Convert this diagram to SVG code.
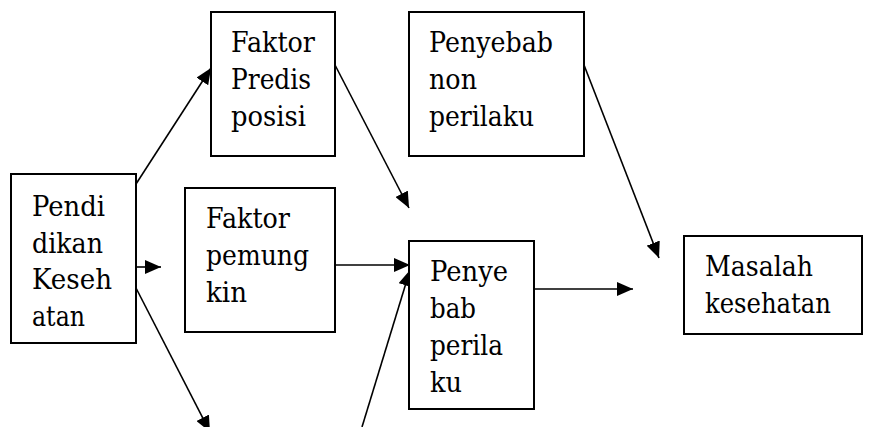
<svg xmlns="http://www.w3.org/2000/svg" width="873" height="427" viewBox="0 0 873 427">
<style>
  .box { fill: #ffffff; stroke: #000000; stroke-width: 2; }
  .lbl { font-family: 'DejaVu Serif', 'Liberation Serif', serif; font-size: 28px; fill: #000000; }
  .conn { stroke: #000000; stroke-width: 1.6; fill: none; marker-end: url(#arrow); }
</style>
<defs>
  <marker id="arrow" markerUnits="userSpaceOnUse" markerWidth="16" markerHeight="14" refX="16" refY="7" orient="auto">
    <path d="M0,0 L16,7 L0,14 Z" fill="#000000"/>
  </marker>
</defs>
<rect width="873" height="427" fill="#ffffff"/>
<g id="connectors">
  <line class="conn" x1="136" y1="184" x2="211" y2="68"/>
  <line class="conn" x1="136" y1="267" x2="161" y2="267"/>
  <line class="conn" x1="136" y1="288" x2="210" y2="432"/>
  <line class="conn" x1="335" y1="65" x2="409" y2="208"/>
  <line class="conn" x1="335" y1="265" x2="410" y2="265"/>
  <line class="conn" x1="362" y1="427" x2="410" y2="270"/>
  <line class="conn" x1="534" y1="289" x2="633" y2="289"/>
  <line class="conn" x1="584" y1="65" x2="659" y2="258"/>
</g>
<g id="pendidikan">
  <rect class="box" x="11" y="174" width="125" height="169"/>
  <text class="lbl" x="32" y="216" textLength="73" lengthAdjust="spacingAndGlyphs">Pendi</text>
  <text class="lbl" x="32" y="253" textLength="71" lengthAdjust="spacingAndGlyphs">dikan</text>
  <text class="lbl" x="32" y="289" textLength="80" lengthAdjust="spacingAndGlyphs">Keseh</text>
  <text class="lbl" x="32" y="326" textLength="53" lengthAdjust="spacingAndGlyphs">atan</text>
</g>
<g id="faktor-predisposisi">
  <rect class="box" x="211" y="12" width="124" height="144"/>
  <text class="lbl" x="231" y="52" textLength="84" lengthAdjust="spacingAndGlyphs">Faktor</text>
  <text class="lbl" x="231" y="89" textLength="80" lengthAdjust="spacingAndGlyphs">Predis</text>
  <text class="lbl" x="231" y="126" textLength="75" lengthAdjust="spacingAndGlyphs">posisi</text>
</g>
<g id="faktor-pemungkin">
  <rect class="box" x="185" y="188" width="150" height="144"/>
  <text class="lbl" x="206" y="228" textLength="84" lengthAdjust="spacingAndGlyphs">Faktor</text>
  <text class="lbl" x="206" y="265" textLength="103" lengthAdjust="spacingAndGlyphs">pemung</text>
  <text class="lbl" x="206" y="302" textLength="41" lengthAdjust="spacingAndGlyphs">kin</text>
</g>
<g id="penyebab-non-perilaku">
  <rect class="box" x="409" y="12" width="175" height="144"/>
  <text class="lbl" x="429" y="52" textLength="124" lengthAdjust="spacingAndGlyphs">Penyebab</text>
  <text class="lbl" x="429" y="89" textLength="48" lengthAdjust="spacingAndGlyphs">non</text>
  <text class="lbl" x="429" y="126" textLength="105" lengthAdjust="spacingAndGlyphs">perilaku</text>
</g>
<g id="penyebab-perilaku">
  <rect class="box" x="409" y="241" width="125" height="168"/>
  <text class="lbl" x="430" y="281" textLength="78" lengthAdjust="spacingAndGlyphs">Penye</text>
  <text class="lbl" x="430" y="318" textLength="46" lengthAdjust="spacingAndGlyphs">bab</text>
  <text class="lbl" x="430" y="355" textLength="73" lengthAdjust="spacingAndGlyphs">perila</text>
  <text class="lbl" x="430" y="392" textLength="32" lengthAdjust="spacingAndGlyphs">ku</text>
</g>
<g id="masalah-kesehatan">
  <rect class="box" x="684" y="236" width="178" height="98"/>
  <text class="lbl" x="705" y="276" textLength="108" lengthAdjust="spacingAndGlyphs">Masalah</text>
  <text class="lbl" x="705" y="313" textLength="126" lengthAdjust="spacingAndGlyphs">kesehatan</text>
</g>
</svg>
